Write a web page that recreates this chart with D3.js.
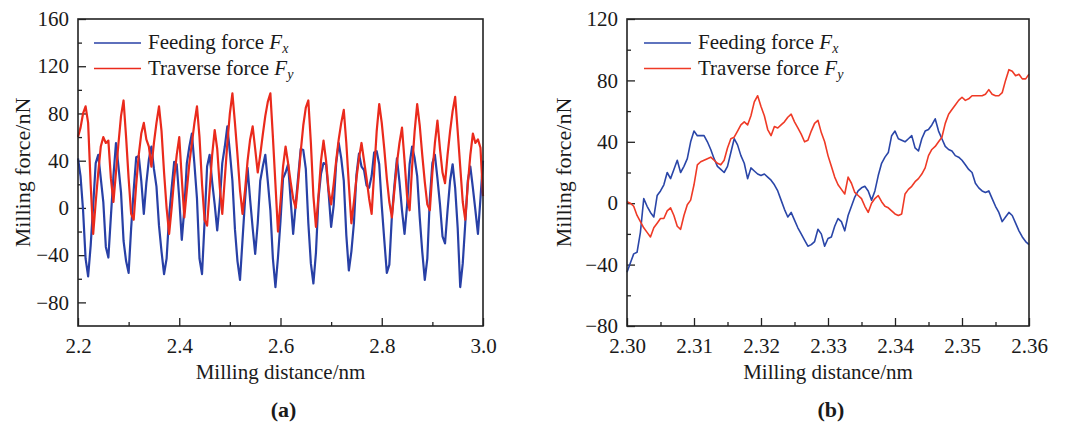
<!DOCTYPE html>
<html>
<head>
<meta charset="utf-8">
<title>Milling force</title>
<script src="https://cdn.jsdelivr.net/npm/d3@7"></script>
<style>
  body { margin: 0; background: #fff; }
  svg text { font-family: "Liberation Serif", "Times New Roman", serif; fill: #1a1a1a; }
</style>
</head>
<body>
<svg id="chart" width="1065" height="427"></svg>
<script>
// (a) sampled every 0.005 nm from 2.2 nm
const leftStart = 2.2, leftStep = 0.005;
const leftFx = [42,27,-2,-43,-58,-32,2,38,45,25,5,-33,-42,-7,27,55,35,13,-28,-45,
  -55,-17,15,43,44,23,-5,21,41,52,33,18,-15,-37,-56,-43,-7,17,39,37,
  8,-27,-1,38,52,63,37,8,-43,-56,-12,35,45,22,3,-19,5,38,52,69,
  47,23,-18,-45,-61,-27,7,34,7,-17,-39,-13,23,35,45,22,-2,-43,-67,-42,
  -11,25,30,37,7,-22,3,27,50,49,33,-13,-47,-64,-38,8,29,38,37,13,
  -16,2,38,55,42,23,-23,-53,-37,-13,28,46,35,32,19,17,27,47,48,37,
  2,-27,-55,-48,-7,19,42,22,-2,-22,2,37,52,42,27,-8,-37,-61,-43,8,
  38,45,25,3,-24,-30,-2,23,37,17,-17,-67,-47,-13,23,35,17,-2,-22,8,40];
const leftFy = [60,68,80,86,72,20,-22,5,30,52,60,55,57,25,5,30,55,78,91,60,
  25,-5,-10,20,45,63,72,58,52,35,55,72,86,65,30,0,-22,0,25,45,
  60,25,-8,15,38,55,72,86,60,20,-10,-15,15,45,66,50,18,-5,25,55,
  80,97,72,45,15,-5,15,40,58,69,50,30,45,62,78,90,97,60,20,-20,
  5,35,52,38,22,8,0,22,48,70,85,91,55,10,-16,10,40,57,40,15,
  3,20,40,58,72,83,55,20,-13,5,25,42,55,40,25,8,-5,30,65,88,
  72,50,25,5,-8,15,38,55,68,40,10,-2,35,65,88,70,45,22,3,-2,
  30,55,74,50,30,21,45,65,82,94,65,35,5,-10,20,45,63,55,58,51,10];

// (b) sampled every 0.0005 nm from 2.30 nm
const rightStart = 2.30, rightStep = 0.0005;
const rightFx = [-45,-39,-33,-32,-19,3,-2,-6,-9,5,8,12,20,16,22,28,20,24,29,40,
  47,44,44,44,40,35,29,24,22,20,24,33,42,38,31,26,16,23,21,19,
  18,19,17,15,12,8,2,-4,-9,-6,-11,-16,-20,-24,-28,-27,-25,-17,-20,-28,
  -23,-22,-15,-10,-12,-18,-8,-2,4,8,10,11,8,2,8,18,26,30,33,44,
  47,42,41,40,42,44,36,34,42,47,48,51,55,47,42,37,35,34,31,30,
  28,25,22,20,13,10,8,7,8,3,-2,-6,-12,-9,-6,-8,-13,-18,-22,-25,-27];
const rightFy = [1,0,-2,-8,-12,-16,-19,-22,-16,-13,-10,-10,-5,-3,-8,-15,-17,-8,-1,2,
  12,25,27,28,29,30,28,26,25,28,36,42,43,47,51,53,51,57,66,70,
  63,57,48,44,50,49,51,53,56,58,53,49,45,40,41,47,52,54,46,40,
  31,24,17,12,9,6,17,13,7,5,3,-2,-6,0,3,5,1,-2,-3,-5,
  -7,-8,-7,6,9,11,14,16,19,23,31,35,37,40,43,52,58,61,64,67,
  69,67,68,70,70,70,70,71,74,71,70,70,72,80,87,86,83,84,81,81,84];

const seriesNames = ["Feeding force ", "Traverse force "];
const seriesSubs = ["x", "y"];

const leftXTicks = [2.2, 2.4, 2.6, 2.8, 3.0];
const leftXMinor = [2.3, 2.5, 2.7, 2.9];
const leftYTicks = [-80, -40, 0, 40, 80, 120, 160];
const leftYMinor = [-60, -20, 20, 60, 100, 140];
const rightXTicks = [2.30, 2.31, 2.32, 2.33, 2.34, 2.35, 2.36];
const rightXMinor = [2.305, 2.315, 2.325, 2.335, 2.345, 2.355];
const rightYTicks = [-80, -40, 0, 40, 80, 120];
const rightYMinor = [-60, -20, 20, 60, 100];

const svg = d3.select("#chart");

const panels = [
  { left: 78, right: 483, top: 19, bottom: 326, xDomain: [2.2, 3.0], yDomain: [-100, 160],
    start: leftStart, step: leftStep, fx: leftFx, fy: leftFy,
    xTicks: leftXTicks, xMinor: leftXMinor, yTicks: leftYTicks, yMinor: leftYMinor,
    xFmt: d3.format(".1f"), tag: "(a)", yTitleX: 30, legendX: 94, colors: ["#2840a6", "#ea2a1c"], width: 2.2 },
  { left: 627, right: 1029, top: 19, bottom: 326, xDomain: [2.30, 2.36], yDomain: [-80, 120],
    start: rightStart, step: rightStep, fx: rightFx, fy: rightFy,
    xTicks: rightXTicks, xMinor: rightXMinor, yTicks: rightYTicks, yMinor: rightYMinor,
    xFmt: d3.format(".2f"), tag: "(b)", yTitleX: 571, legendX: 644, colors: ["#2a46a8", "#ef3a26"], width: 1.6 }
];

panels.forEach(function(p) {
  const x = d3.scaleLinear().domain(p.xDomain).range([p.left, p.right]);
  const y = d3.scaleLinear().domain(p.yDomain).range([p.bottom, p.top]);
  const g = svg.append("g");

  // ticks point inward
  function styleAxis(sel) {
    sel.attr("font-size", null).attr("font-family", null);
    sel.select(".domain").remove();
    sel.selectAll("line").attr("stroke", "#222").attr("stroke-width", 1.3);
    sel.selectAll("text").style("font-size", "21px");
  }
  g.append("g").attr("transform", "translate(0," + p.bottom + ")")
    .call(d3.axisBottom(x).tickValues(p.xMinor).tickSize(-4).tickFormat(""))
    .call(styleAxis);
  g.append("g").attr("transform", "translate(0," + p.bottom + ")")
    .call(d3.axisBottom(x).tickValues(p.xTicks).tickSize(-8).tickPadding(12).tickFormat(p.xFmt))
    .call(styleAxis);
  g.append("g").attr("transform", "translate(" + p.left + ",0)")
    .call(d3.axisLeft(y).tickValues(p.yMinor).tickSize(-4).tickFormat(""))
    .call(styleAxis);
  g.append("g").attr("transform", "translate(" + p.left + ",0)")
    .call(d3.axisLeft(y).tickValues(p.yTicks).tickSize(-8).tickPadding(9).tickFormat(d3.format("d")))
    .call(styleAxis);

  // lines
  const line = d3.line()
    .x(function(d, i) { return x(p.start + i * p.step); })
    .y(function(d) { return y(d); });
  [p.fx, p.fy].forEach(function(vals, k) {
    g.append("path").datum(vals)
      .attr("fill", "none")
      .attr("stroke", p.colors[k])
      .attr("stroke-width", p.width)
      .attr("stroke-linejoin", "round")
      .attr("d", line);
  });

  // frame
  g.append("rect")
    .attr("x", p.left).attr("y", p.top)
    .attr("width", p.right - p.left).attr("height", p.bottom - p.top)
    .attr("fill", "none").attr("stroke", "#222").attr("stroke-width", 1.6);

  // legend
  seriesNames.forEach(function(name, k) {
    const ly = 43 + k * 25.5;
    g.append("line")
      .attr("x1", p.legendX).attr("x2", p.legendX + 47)
      .attr("y1", ly).attr("y2", ly)
      .attr("stroke", p.colors[k]).attr("stroke-width", 1.6);
    const t = g.append("text")
      .attr("x", p.legendX + 54).attr("y", ly + 6)
      .style("font-size", "21px");
    t.append("tspan").text(name);
    t.append("tspan").style("font-style", "italic").text("F");
    t.append("tspan").style("font-style", "italic").style("font-size", "14px")
      .attr("dy", 4).text(seriesSubs[k]);
  });

  // titles
  const cx = (p.left + p.right) / 2;
  g.append("text").attr("x", cx).attr("y", 379)
    .attr("text-anchor", "middle").style("font-size", "21px")
    .text("Milling distance/nm");
  g.append("text").attr("x", cx + 3).attr("y", 417)
    .attr("text-anchor", "middle").style("font-size", "22px").style("font-weight", "bold")
    .text(p.tag);
  g.append("text")
    .attr("transform", "translate(" + p.yTitleX + "," + ((p.top + p.bottom) / 2) + ") rotate(-90)")
    .attr("text-anchor", "middle").style("font-size", "22px")
    .text("Milling force/nN");
});
</script>
</body>
</html>
